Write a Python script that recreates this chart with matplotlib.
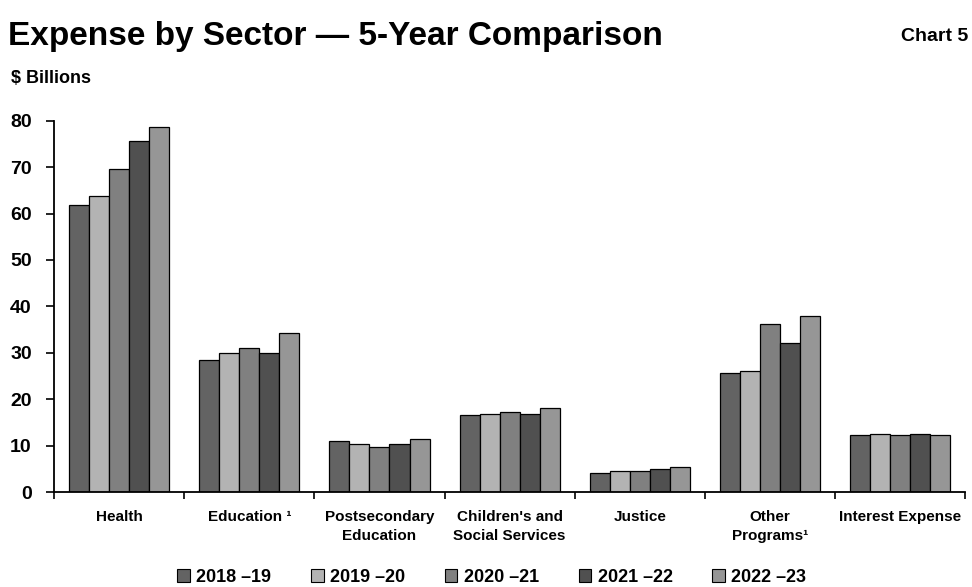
import numpy as np
import matplotlib.pyplot as plt
from matplotlib.patches import Patch

# expense by sector, $ billions
sectors = ["Health", "Education \u00b9", "Postsecondary\nEducation",
           "Children's and\nSocial Services", "Justice", "Other\nPrograms\u00b9",
           "Interest Expense"]
years = ["2018 \u201319", "2019 \u201320", "2020 \u201321", "2021 \u201322", "2022 \u201323"]
y2018 = [61.9, 28.5, 11.1, 16.5, 4.2, 25.6, 12.2]
y2019 = [63.7, 29.9, 10.3, 16.9, 4.5, 26.0, 12.6]
y2020 = [69.5, 31.0, 9.7, 17.2, 4.5, 36.2, 12.2]
y2021 = [75.7, 29.9, 10.3, 16.9, 5.0, 32.1, 12.6]
y2022 = [78.6, 34.2, 11.4, 18.0, 5.3, 38.0, 12.2]
series = [y2018, y2019, y2020, y2021, y2022]
colors = ["#636363", "#b3b3b3", "#808080", "#505050", "#969696"]

plt.rcParams['font.family'] = ['Liberation Sans', 'DejaVu Sans']

fig = plt.figure(figsize=(9.72, 5.87), dpi=100)
ax = fig.add_axes([0.0556, 0.1618, 0.9374, 0.6326])

x = np.arange(len(sectors))
w = 0.154
for i, (vals, c) in enumerate(zip(series, colors)):
    ax.bar(x + (i - 2) * w, vals, width=w, color=c, edgecolor="black",
           linewidth=0.9, label=years[i])

ax.set_xlim(-0.5, len(sectors) - 0.5)
ax.set_ylim(0, 80)
ax.set_yticks(range(0, 81, 10))
ax.set_yticklabels([str(v) for v in range(0, 81, 10)], fontsize=14,
                   fontweight="bold")
ax.tick_params(axis="y", direction="out", length=6, width=1.2, pad=10)

# group boundaries get the tick marks, names sit at group centres
ax.set_xticks(np.arange(-0.5, len(sectors), 1.0))
ax.set_xticklabels([])
ax.tick_params(axis="x", which="major", direction="out", length=5, width=1.2)
ax.set_xticks(x, minor=True)
ax.set_xticklabels(sectors, minor=True, fontsize=11, fontweight="bold",
                   linespacing=1.45)
ax.tick_params(axis="x", which="minor", length=0, pad=13)

for s in ["top", "right"]:
    ax.spines[s].set_visible(False)
for s in ["left", "bottom"]:
    ax.spines[s].set_linewidth(1.3)

fig.text(0.008, 0.938, "Expense by Sector \u2014 5-Year Comparison", fontsize=24,
         fontweight="bold", va="center", ha="left")
fig.text(0.996, 0.937, "Chart 5", fontsize=14, fontweight="bold",
         va="center", ha="right")
fig.text(0.011, 0.867, "$ Billions", fontsize=13, fontweight="bold",
         va="center", ha="left")

handles = [Patch(facecolor=c, edgecolor="black", linewidth=0.8) for c in colors]
fig.legend(handles, years, loc="center", bbox_to_anchor=(0.506, 0.017), ncol=5,
           frameon=False, handlelength=0.7, handleheight=0.7, handletextpad=0.35,
           columnspacing=2.2, prop={"weight": "bold", "size": 13})

fig.savefig("out.png", dpi=100)
